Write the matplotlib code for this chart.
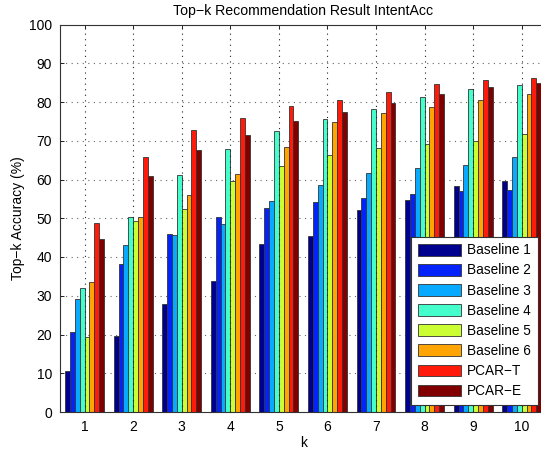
import numpy as np
import matplotlib
matplotlib.use("Agg")
import matplotlib.pyplot as plt

plt.rcParams['font.family'] = ['Liberation Sans', 'DejaVu Sans']

k_values = [1, 2, 3, 4, 5, 6, 7, 8, 9, 10]
series_names = ["Baseline 1", "Baseline 2", "Baseline 3", "Baseline 4",
                "Baseline 5", "Baseline 6", "PCAR\u2212T", "PCAR\u2212E"]

baseline1 = [10.7, 19.6, 27.8, 33.7, 43.3, 45.3, 52.1, 54.6, 58.3, 59.5]
baseline2 = [20.6, 38.2, 45.9, 50.3, 52.7, 54.2, 55.2, 56.3, 57.0, 57.4]
baseline3 = [29.1, 43.2, 45.6, 48.5, 54.4, 58.7, 61.8, 62.9, 63.7, 65.7]
baseline4 = [31.9, 50.2, 61.1, 67.8, 72.6, 75.6, 78.2, 81.2, 83.3, 84.4]
baseline5 = [19.3, 49.4, 52.5, 59.6, 63.4, 66.4, 68.1, 69.1, 70.0, 71.7]
baseline6 = [33.5, 50.4, 55.9, 61.4, 68.3, 74.9, 77.1, 78.8, 80.4, 82.1]
pcar_t = [48.8, 65.8, 72.7, 75.9, 79.0, 80.6, 82.5, 84.7, 85.6, 86.3]
pcar_e = [44.7, 60.9, 67.6, 71.4, 75.1, 77.3, 79.7, 82.1, 83.8, 84.8]

series = [baseline1, baseline2, baseline3, baseline4,
          baseline5, baseline6, pcar_t, pcar_e]
colors = ["#00008E", "#0422FA", "#08AAFF", "#44FFCC",
          "#CCFF33", "#FFA400", "#FF1A0A", "#800000"]

fig = plt.figure(figsize=(5.41, 4.53), dpi=100)
ax = fig.add_axes([60.3 / 541, 41 / 453, (546 - 60.3) / 541, 387.5 / 453])

x = np.array(k_values, dtype=float)
n = len(series)
bar_w = 0.8 / n
for i, (vals, c, name) in enumerate(zip(series, colors, series_names)):
    offs = (i - (n - 1) / 2) * bar_w
    ax.bar(x + offs, vals, width=bar_w, color=c, edgecolor="#333333",
           linewidth=0.6, label=name, zorder=2)

yticks = np.arange(0, 101, 10)
ax.set_xlim(0.5, 10.5)
ax.set_ylim(0, 100)
ax.set_xticks(k_values)
ax.set_yticks(yticks)

# dotted grid: horizontal lines behind the bars, vertical lines on top
for yv in yticks[1:-1]:
    ax.axhline(yv, color="#666666", linestyle=(0, (1, 4)), linewidth=0.8, zorder=1)
for xv in k_values:
    ax.axvline(xv, color="#222222", linestyle=(0, (1, 4)), linewidth=0.8, zorder=3)

ax.tick_params(direction="in", length=3, width=0.6, labelsize=10, pad=6,
               top=True, right=True)
for sp in ax.spines.values():
    sp.set_linewidth(0.8)
    sp.set_color("#333333")

ax.set_xlabel("k", fontsize=10, labelpad=1)
ax.set_ylabel("Top\u2212k Accuracy (%)", fontsize=10, labelpad=3)
ax.set_title("Top\u2212k Recommendation Result IntentAcc", fontsize=10.2, pad=7)

leg = ax.legend(loc="lower right", bbox_to_anchor=(538 / 541, 48 / 453),
                bbox_transform=fig.transFigure, borderaxespad=0,
                fontsize=9.8, handlelength=3.2, handleheight=0.95,
                labelspacing=0.45, handletextpad=0.45, borderpad=0.5,
                fancybox=False, framealpha=1, edgecolor="#333333")
leg.get_frame().set_linewidth(0.8)
leg.set_zorder(5)

fig.savefig("out.png", dpi=100)
